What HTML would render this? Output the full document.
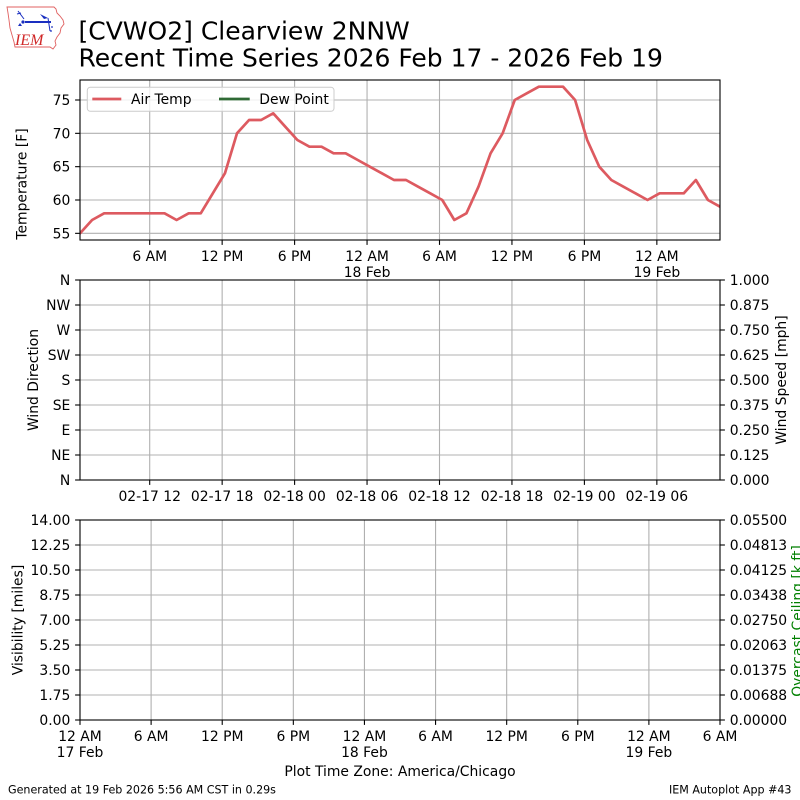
<!DOCTYPE html>
<html><head><meta charset="utf-8"><style>
html,body{margin:0;padding:0;background:#fff;}
svg{display:block;}
text{font-family:"DejaVu Sans","Liberation Sans",sans-serif;}
</style></head><body>
<svg width="800" height="800" viewBox="0 0 800 800" xmlns="http://www.w3.org/2000/svg">
<defs>
<clipPath id="c1"><rect x="80" y="80" width="640" height="160"/></clipPath>
</defs>
<rect width="800" height="800" fill="#fff"/>

<!-- Logo -->
<g>
<path d="M7,7 H54 L56,9 L57,13 L60,16 L63,20 L64,24 L61,28 L60,33 L57,37 L55,41 L56,45 L53,49 L50,47 H15 L14,42 L12,35 L10,28 L9,20 L8,13 Z" fill="none" stroke="#e06060" stroke-width="0.9"/>
<line x1="25" y1="22" x2="51" y2="22" stroke="#1a2fc0" stroke-width="2"/>
<line x1="18" y1="11" x2="24" y2="19" stroke="#1a2fc0" stroke-width="1"/>
<line x1="17" y1="14" x2="21" y2="13" stroke="#1a2fc0" stroke-width="1"/>
<circle cx="23" cy="22" r="1.6" fill="#1a2fc0"/>
<path d="M18,26 l2,-3 l2,3 z" fill="#1a2fc0"/>
<path d="M40,14 L48,18 L44,19 Z" fill="#1a2fc0"/>
<line x1="48" y1="18" x2="50" y2="31" stroke="#1a2fc0" stroke-width="1"/>
<circle cx="52" cy="27" r="0.9" fill="#1a2fc0"/>
<circle cx="51" cy="31" r="0.9" fill="#1a2fc0"/>
<text x="15" y="45" font-family="Liberation Serif, serif" font-style="italic" font-size="16" fill="#d02828" style="font-family:'Liberation Serif',serif">IEM</text>
</g>

<!-- Title -->
<text x="78.5" y="39.5" font-size="25" fill="#000">[CVWO2] Clearview 2NNW</text>
<text x="78.5" y="66.5" font-size="25" fill="#000">Recent Time Series 2026 Feb 17 - 2026 Feb 19</text>

<!-- ================= Panel 1 ================= -->
<g stroke="#b0b0b0" stroke-width="1.1">
<line x1="80" y1="100" x2="720" y2="100"/>
<line x1="80" y1="133.33" x2="720" y2="133.33"/>
<line x1="80" y1="166.67" x2="720" y2="166.67"/>
<line x1="80" y1="200" x2="720" y2="200"/>
<line x1="80" y1="233.33" x2="720" y2="233.33"/>
<line x1="149.7" y1="80" x2="149.7" y2="240"/>
<line x1="222.15" y1="80" x2="222.15" y2="240"/>
<line x1="294.6" y1="80" x2="294.6" y2="240"/>
<line x1="367.05" y1="80" x2="367.05" y2="240"/>
<line x1="439.5" y1="80" x2="439.5" y2="240"/>
<line x1="511.95" y1="80" x2="511.95" y2="240"/>
<line x1="584.4" y1="80" x2="584.4" y2="240"/>
<line x1="656.85" y1="80" x2="656.85" y2="240"/>
</g>
<polyline clip-path="url(#c1)" fill="none" stroke="#dd5a60" stroke-width="2.7" stroke-linejoin="round" stroke-linecap="round" points="
80,233.33 92.08,220 104.15,213.33 116.23,213.33 128.3,213.33 140.38,213.33 152.45,213.33 164.53,213.33 176.6,220 188.68,213.33 200.75,213.33 212.83,193.33 224.91,173.33 236.98,133.33 249.06,120 261.13,120 273.21,113.33 285.28,126.67 297.36,140 309.43,146.67 321.51,146.67 333.58,153.33 345.66,153.33 357.74,160 369.81,166.67 381.89,173.33 393.96,180 406.04,180 418.11,186.67 430.19,193.33 442.26,200 454.34,220 466.42,213.33 478.49,186.67 490.57,153.33 502.64,133.33 514.72,100 526.79,93.33 538.87,86.67 550.94,86.67 563.02,86.67 575.09,100 587.17,140 599.25,166.67 611.32,180 623.4,186.67 635.47,193.33 647.55,200 659.62,193.33 671.7,193.33 683.77,193.33 695.85,180 707.92,200 720,206.67"/>
<!-- legend -->
<rect x="87.3" y="87.3" width="246.7" height="24" rx="3" ry="3" fill="#fff" fill-opacity="0.8" stroke="#cccccc" stroke-width="1"/>
<line x1="92.3" y1="99" x2="121.3" y2="99" stroke="#dd5a60" stroke-width="2.7"/>
<text x="131" y="104" font-size="13.9" fill="#000">Air Temp</text>
<line x1="219" y1="99" x2="249.7" y2="99" stroke="#2f6a35" stroke-width="2.7"/>
<text x="259.3" y="104" font-size="13.9" fill="#000">Dew Point</text>
<!-- spines & ticks -->
<rect x="80" y="80" width="640" height="160" fill="none" stroke="#000" stroke-width="1.1"/>
<g stroke="#000" stroke-width="1.1">
<line x1="149.7" y1="240" x2="149.7" y2="244.9"/>
<line x1="222.15" y1="240" x2="222.15" y2="244.9"/>
<line x1="294.6" y1="240" x2="294.6" y2="244.9"/>
<line x1="367.05" y1="240" x2="367.05" y2="244.9"/>
<line x1="439.5" y1="240" x2="439.5" y2="244.9"/>
<line x1="511.95" y1="240" x2="511.95" y2="244.9"/>
<line x1="584.4" y1="240" x2="584.4" y2="244.9"/>
<line x1="656.85" y1="240" x2="656.85" y2="244.9"/>
<line x1="75.1" y1="100" x2="80" y2="100"/>
<line x1="75.1" y1="133.33" x2="80" y2="133.33"/>
<line x1="75.1" y1="166.67" x2="80" y2="166.67"/>
<line x1="75.1" y1="200" x2="80" y2="200"/>
<line x1="75.1" y1="233.33" x2="80" y2="233.33"/>
</g>
<g font-size="13.9" fill="#000" text-anchor="end">
<text x="70.3" y="105">75</text>
<text x="70.3" y="138.33">70</text>
<text x="70.3" y="171.67">65</text>
<text x="70.3" y="205">60</text>
<text x="70.3" y="238.33">55</text>
</g>
<g font-size="13.9" fill="#000" text-anchor="middle">
<text x="149.7" y="261">6 AM</text>
<text x="222.15" y="261">12 PM</text>
<text x="294.6" y="261">6 PM</text>
<text x="367.05" y="261">12 AM</text>
<text x="367.05" y="277">18 Feb</text>
<text x="439.5" y="261">6 AM</text>
<text x="511.95" y="261">12 PM</text>
<text x="584.4" y="261">6 PM</text>
<text x="656.85" y="261">12 AM</text>
<text x="656.85" y="277">19 Feb</text>
</g>
<text transform="translate(26.7,184) rotate(-90)" font-size="13.9" text-anchor="middle" fill="#000">Temperature [F]</text>

<!-- ================= Panel 2 ================= -->
<g stroke="#b0b0b0" stroke-width="1.1">
<line x1="80" y1="305" x2="720" y2="305"/>
<line x1="80" y1="330" x2="720" y2="330"/>
<line x1="80" y1="355" x2="720" y2="355"/>
<line x1="80" y1="380" x2="720" y2="380"/>
<line x1="80" y1="405" x2="720" y2="405"/>
<line x1="80" y1="430" x2="720" y2="430"/>
<line x1="80" y1="455" x2="720" y2="455"/>
<line x1="149.7" y1="280" x2="149.7" y2="480"/>
<line x1="222.15" y1="280" x2="222.15" y2="480"/>
<line x1="294.6" y1="280" x2="294.6" y2="480"/>
<line x1="367.05" y1="280" x2="367.05" y2="480"/>
<line x1="439.5" y1="280" x2="439.5" y2="480"/>
<line x1="511.95" y1="280" x2="511.95" y2="480"/>
<line x1="584.4" y1="280" x2="584.4" y2="480"/>
<line x1="656.85" y1="280" x2="656.85" y2="480"/>
</g>
<rect x="80" y="280" width="640" height="200" fill="none" stroke="#000" stroke-width="1.1"/>
<g stroke="#000" stroke-width="1.1">
<line x1="149.7" y1="480" x2="149.7" y2="484.9"/>
<line x1="222.15" y1="480" x2="222.15" y2="484.9"/>
<line x1="294.6" y1="480" x2="294.6" y2="484.9"/>
<line x1="367.05" y1="480" x2="367.05" y2="484.9"/>
<line x1="439.5" y1="480" x2="439.5" y2="484.9"/>
<line x1="511.95" y1="480" x2="511.95" y2="484.9"/>
<line x1="584.4" y1="480" x2="584.4" y2="484.9"/>
<line x1="656.85" y1="480" x2="656.85" y2="484.9"/>
<line x1="75.1" y1="280" x2="80" y2="280"/>
<line x1="75.1" y1="305" x2="80" y2="305"/>
<line x1="75.1" y1="330" x2="80" y2="330"/>
<line x1="75.1" y1="355" x2="80" y2="355"/>
<line x1="75.1" y1="380" x2="80" y2="380"/>
<line x1="75.1" y1="405" x2="80" y2="405"/>
<line x1="75.1" y1="430" x2="80" y2="430"/>
<line x1="75.1" y1="455" x2="80" y2="455"/>
<line x1="75.1" y1="480" x2="80" y2="480"/>
<line x1="720" y1="280" x2="724.9" y2="280"/>
<line x1="720" y1="305" x2="724.9" y2="305"/>
<line x1="720" y1="330" x2="724.9" y2="330"/>
<line x1="720" y1="355" x2="724.9" y2="355"/>
<line x1="720" y1="380" x2="724.9" y2="380"/>
<line x1="720" y1="405" x2="724.9" y2="405"/>
<line x1="720" y1="430" x2="724.9" y2="430"/>
<line x1="720" y1="455" x2="724.9" y2="455"/>
<line x1="720" y1="480" x2="724.9" y2="480"/>
</g>
<g font-size="13.9" fill="#000" text-anchor="end">
<text x="70.3" y="285">N</text>
<text x="70.3" y="310">NW</text>
<text x="70.3" y="335">W</text>
<text x="70.3" y="360">SW</text>
<text x="70.3" y="385">S</text>
<text x="70.3" y="410">SE</text>
<text x="70.3" y="435">E</text>
<text x="70.3" y="460">NE</text>
<text x="70.3" y="485">N</text>
</g>
<g font-size="13.9" fill="#000" text-anchor="start">
<text x="729.7" y="285">1.000</text>
<text x="729.7" y="310">0.875</text>
<text x="729.7" y="335">0.750</text>
<text x="729.7" y="360">0.625</text>
<text x="729.7" y="385">0.500</text>
<text x="729.7" y="410">0.375</text>
<text x="729.7" y="435">0.250</text>
<text x="729.7" y="460">0.125</text>
<text x="729.7" y="485">0.000</text>
</g>
<g font-size="13.9" fill="#000" text-anchor="middle">
<text x="149.7" y="501">02-17 12</text>
<text x="222.15" y="501">02-17 18</text>
<text x="294.6" y="501">02-18 00</text>
<text x="367.05" y="501">02-18 06</text>
<text x="439.5" y="501">02-18 12</text>
<text x="511.95" y="501">02-18 18</text>
<text x="584.4" y="501">02-19 00</text>
<text x="656.85" y="501">02-19 06</text>
</g>
<text transform="translate(38,380) rotate(-90)" font-size="13.9" text-anchor="middle" fill="#000">Wind Direction</text>
<text transform="translate(786,380) rotate(-90)" font-size="13.9" text-anchor="middle" fill="#000">Wind Speed [mph]</text>

<!-- ================= Panel 3 ================= -->
<g stroke="#b0b0b0" stroke-width="1.1">
<line x1="80" y1="545" x2="720" y2="545"/>
<line x1="80" y1="570" x2="720" y2="570"/>
<line x1="80" y1="595" x2="720" y2="595"/>
<line x1="80" y1="620" x2="720" y2="620"/>
<line x1="80" y1="645" x2="720" y2="645"/>
<line x1="80" y1="670" x2="720" y2="670"/>
<line x1="80" y1="695" x2="720" y2="695"/>
<line x1="151.11" y1="520" x2="151.11" y2="720"/>
<line x1="222.22" y1="520" x2="222.22" y2="720"/>
<line x1="293.33" y1="520" x2="293.33" y2="720"/>
<line x1="364.44" y1="520" x2="364.44" y2="720"/>
<line x1="435.56" y1="520" x2="435.56" y2="720"/>
<line x1="506.67" y1="520" x2="506.67" y2="720"/>
<line x1="577.78" y1="520" x2="577.78" y2="720"/>
<line x1="648.89" y1="520" x2="648.89" y2="720"/>
</g>
<rect x="80" y="520" width="640" height="200" fill="none" stroke="#000" stroke-width="1.1"/>
<g stroke="#000" stroke-width="1.1">
<line x1="80" y1="720" x2="80" y2="724.9"/>
<line x1="151.11" y1="720" x2="151.11" y2="724.9"/>
<line x1="222.22" y1="720" x2="222.22" y2="724.9"/>
<line x1="293.33" y1="720" x2="293.33" y2="724.9"/>
<line x1="364.44" y1="720" x2="364.44" y2="724.9"/>
<line x1="435.56" y1="720" x2="435.56" y2="724.9"/>
<line x1="506.67" y1="720" x2="506.67" y2="724.9"/>
<line x1="577.78" y1="720" x2="577.78" y2="724.9"/>
<line x1="648.89" y1="720" x2="648.89" y2="724.9"/>
<line x1="720" y1="720" x2="720" y2="724.9"/>
<line x1="75.1" y1="520" x2="80" y2="520"/>
<line x1="75.1" y1="545" x2="80" y2="545"/>
<line x1="75.1" y1="570" x2="80" y2="570"/>
<line x1="75.1" y1="595" x2="80" y2="595"/>
<line x1="75.1" y1="620" x2="80" y2="620"/>
<line x1="75.1" y1="645" x2="80" y2="645"/>
<line x1="75.1" y1="670" x2="80" y2="670"/>
<line x1="75.1" y1="695" x2="80" y2="695"/>
<line x1="75.1" y1="720" x2="80" y2="720"/>
<line x1="720" y1="520" x2="724.9" y2="520"/>
<line x1="720" y1="545" x2="724.9" y2="545"/>
<line x1="720" y1="570" x2="724.9" y2="570"/>
<line x1="720" y1="595" x2="724.9" y2="595"/>
<line x1="720" y1="620" x2="724.9" y2="620"/>
<line x1="720" y1="645" x2="724.9" y2="645"/>
<line x1="720" y1="670" x2="724.9" y2="670"/>
<line x1="720" y1="695" x2="724.9" y2="695"/>
<line x1="720" y1="720" x2="724.9" y2="720"/>
</g>
<g font-size="13.9" fill="#000" text-anchor="end">
<text x="70.3" y="525">14.00</text>
<text x="70.3" y="550">12.25</text>
<text x="70.3" y="575">10.50</text>
<text x="70.3" y="600">8.75</text>
<text x="70.3" y="625">7.00</text>
<text x="70.3" y="650">5.25</text>
<text x="70.3" y="675">3.50</text>
<text x="70.3" y="700">1.75</text>
<text x="70.3" y="725">0.00</text>
</g>
<g font-size="13.9" fill="#000" text-anchor="start">
<text x="729.7" y="525">0.05500</text>
<text x="729.7" y="550">0.04813</text>
<text x="729.7" y="575">0.04125</text>
<text x="729.7" y="600">0.03438</text>
<text x="729.7" y="625">0.02750</text>
<text x="729.7" y="650">0.02063</text>
<text x="729.7" y="675">0.01375</text>
<text x="729.7" y="700">0.00688</text>
<text x="729.7" y="725">0.00000</text>
</g>
<g font-size="13.9" fill="#000" text-anchor="middle">
<text x="80" y="741">12 AM</text>
<text x="80" y="757">17 Feb</text>
<text x="151.11" y="741">6 AM</text>
<text x="222.22" y="741">12 PM</text>
<text x="293.33" y="741">6 PM</text>
<text x="364.44" y="741">12 AM</text>
<text x="364.44" y="757">18 Feb</text>
<text x="435.56" y="741">6 AM</text>
<text x="506.67" y="741">12 PM</text>
<text x="577.78" y="741">6 PM</text>
<text x="648.89" y="741">12 AM</text>
<text x="648.89" y="757">19 Feb</text>
<text x="720" y="741">6 AM</text>
<text x="400" y="776">Plot Time Zone: America/Chicago</text>
</g>
<text transform="translate(22.5,620) rotate(-90)" font-size="13.9" text-anchor="middle" fill="#000">Visibility [miles]</text>
<text transform="translate(802,621) rotate(-90)" font-size="13.9" text-anchor="middle" fill="#008000">Overcast Ceiling [k ft]</text>

<!-- Footer -->
<text x="8" y="793.5" font-size="11.1" fill="#000">Generated at 19 Feb 2026 5:56 AM CST in 0.29s</text>
<text x="791.5" y="793.5" font-size="11.1" fill="#000" text-anchor="end">IEM Autoplot App #43</text>
</svg>
</body></html>
